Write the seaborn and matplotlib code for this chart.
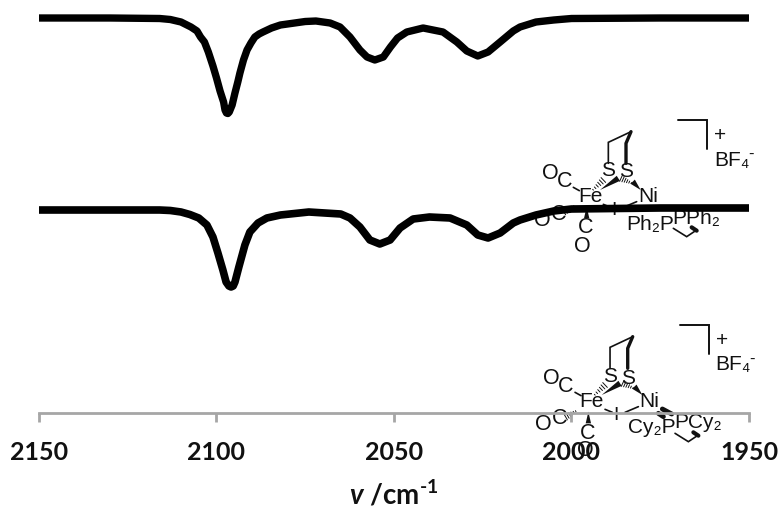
import matplotlib
matplotlib.use('Agg')
import matplotlib.pyplot as plt
import seaborn as sns

top_wn = [2150, 2130, 2116, 2113, 2110, 2107.2, 2105.5, 2104.5, 2103.4, 2102.3, 2101, 2100, 2099, 2098,
          2097.6, 2097.2, 2096.8, 2096.4, 2095.6, 2094.8, 2094, 2093.4, 2092.4, 2091.4, 2090.3, 2089.2, 2088,
          2086.9, 2084.5, 2082, 2078, 2075, 2072, 2068, 2065.2, 2062.4, 2059.6, 2057.6, 2055.4, 2053, 2051,
          2049, 2046.4, 2041.8, 2036.2, 2032.3, 2029.5, 2026.4, 2023.5, 2020.1, 2016.4, 2014.5, 2010, 2005,
          2000, 1975, 1950]
top_sig = [18, 18, 18.5, 19.5, 22, 27, 31, 37, 42, 52, 66, 78, 91, 102,
           110, 113, 113.5, 112, 105, 93, 82, 73, 60, 50, 43, 37, 34,
           32, 28, 25, 23, 21.5, 21, 23, 27, 37, 50, 57, 60, 57, 47,
           38, 32, 28, 32, 42, 51, 56, 52, 42, 31, 27, 22, 20,
           18.5, 18, 18]

mid_wn = [2150, 2130, 2116, 2113, 2110, 2107.5, 2105, 2102.7, 2101, 2099.6, 2098.2, 2097.3, 2096.5, 2095.9, 2095.3,
          2094.8, 2093.7, 2092, 2090.6, 2088.3, 2085.8, 2082, 2074, 2065, 2062.4, 2059.6, 2056.8, 2054, 2051.1,
          2048.3, 2044.6, 2040, 2034.2, 2029.5, 2026.4, 2023.5, 2020.1, 2016.4, 2014.5, 2010, 2005, 2000, 1975, 1950]
mid_sig = [210, 210, 210, 210.5, 212, 214.5, 218, 225, 237, 253, 270, 282, 286, 287, 286,
           282, 267, 245, 232, 223, 218, 215, 212, 214, 218, 227, 240, 244, 240,
           228, 219, 217, 218, 225, 235, 238, 233, 223, 220, 215, 211, 209, 208, 208]

ticks = [2150, 2100, 2050, 2000, 1950]

sns.set_theme(style='white')
plt.rcParams['font.family'] = ['Lato', 'DejaVu Sans']
plt.rcParams['mathtext.fontset'] = 'custom'
plt.rcParams['mathtext.rm'] = 'Lato:bold'
plt.rcParams['mathtext.it'] = 'Lato:italic:bold'

fig = plt.figure(figsize=(7.78, 5.12), dpi=100)

# Overlay in picture pixels for the two structure drawings
sk = fig.add_axes([0, 0, 1, 1], zorder=1)
sk.set_xlim(0, 778)
sk.set_ylim(512, 0)
sk.axis('off')

ax = fig.add_axes([39 / 778, 99 / 512, 710 / 778, 413 / 512], zorder=2)
ax.patch.set_alpha(0)
sns.lineplot(x=top_wn, y=top_sig, color='black', lw=5.3, ax=ax, sort=False,
             solid_capstyle='butt', solid_joinstyle='round')
sns.lineplot(x=mid_wn, y=mid_sig, color='black', lw=5.5, ax=ax, sort=False,
             solid_capstyle='butt', solid_joinstyle='round')
ax.set_xlim(2150, 1950)
ax.set_ylim(413, 0)
ax.set_yticks([])
ax.set_xticks(ticks)
ax.set_xticklabels([str(t) for t in ticks], fontsize=18, fontweight='bold', color='#111111')
ax.tick_params(axis='x', direction='out', length=6.5, width=2, color='#a6a6a6', pad=14, bottom=True)
ax.set_xlabel(r'$\mathit{v}$ /cm$^{\text{-}1}$', fontsize=20, fontweight='bold', color='#111111', labelpad=11)
sns.despine(ax=ax, left=True)
ax.spines['bottom'].set_color('#a6a6a6')
ax.spines['bottom'].set_linewidth(2)


def draw_structure(ox, oy, labels, low_wedge):
    # geometry is given in 3x crop units around the origin ox, oy
    def px(p):
        return ox + p[0] / 3, oy + p[1] / 3

    def bond(*pts, lw=1.2):
        xs, ys = zip(*[px(p) for p in pts])
        sk.plot(xs, ys, color='#111111', lw=lw, solid_joinstyle='miter')

    def wedge(a, b, w=9):
        dx, dy = b[0] - a[0], b[1] - a[1]
        n = (dx ** 2 + dy ** 2) ** 0.5
        c1 = (b[0] - dy / n * w, b[1] + dx / n * w)
        c2 = (b[0] + dy / n * w, b[1] - dx / n * w)
        xs, ys = zip(*[px(p) for p in (a, c1, c2)])
        sk.fill(xs, ys, color='#111111', lw=0)

    def hashed(a, b, w=10, n=6):
        dx, dy = b[0] - a[0], b[1] - a[1]
        d = (dx ** 2 + dy ** 2) ** 0.5
        for i in range(1, n + 1):
            t = i / n
            hw = w * t
            cx, cy = a[0] + dx * t, a[1] + dy * t
            bond((cx - dy / d * hw, cy + dx / d * hw), (cx + dy / d * hw, cy - dx / d * hw), lw=0.7)

    bond((475, 29), (562, 29), (562, 118), lw=1.4)
    bond((265, 160), (265, 97), (333, 65), lw=1.2)
    bond((333, 65), (318, 100), (318, 160), lw=2.4)
    bond((160, 232), (178, 242))
    hashed((213, 245), (250, 210))
    wedge((240, 240), (295, 205))
    hashed((340, 222), (303, 205))
    wedge((362, 240), (338, 215))
    bond((250, 283), (272, 292))
    bond((310, 292), (350, 275))
    hashed((168, 285), (132, 306))
    wedge((200, 290), (200, 325), w=8)
    bond((460, 355), (500, 380), (530, 360))
    bond((515, 352), (530, 362), lw=3)
    low_wedge(bond, wedge)

    for x, y, s, size in labels:
        xp, yp = px((x, y))
        sk.text(xp, yp, s, fontsize=size, family='Liberation Sans', color='#111111', ha='center', va='center')


def wedges_ph(bond, wedge):
    wedge((425, 285), (445, 296), w=6)


def wedges_cy(bond, wedge):
    bond((410, 295), (425, 305), lw=3.5)
    bond((422, 282), (450, 297), lw=3.5)


ph_labels = [(90, 190, 'O', 15.5), (133, 215, 'C', 15.5), (210, 260, 'Fe', 15), (385, 260, 'Ni', 15),
             (263, 182, 'S', 15), (318, 185, 'S', 15), (283, 302, 'I', 14), (68, 330, 'O', 15.5), (115, 315, 'C', 15.5),
             (197, 352, 'C', 15.5), (188, 408, 'O', 15.5), (390, 342, 'Ph\u2082P', 15), (530, 325, 'PPh\u2082', 15),
             (600, 76, '+', 15), (635, 150, 'BF\u2084', 15), (692, 133, '-', 12)]
cy_labels = [(90, 190, 'O', 15.5), (133, 215, 'C', 15.5), (210, 260, 'Fe', 15), (383, 260, 'Ni', 15),
             (265, 185, 'S', 15), (318, 190, 'S', 15), (283, 300, 'I', 14), (65, 330, 'O', 15.5), (113, 310, 'C', 15.5),
             (197, 355, 'C', 15.5), (190, 405, 'O', 15.5), (390, 337, 'Cy\u2082P', 15), (530, 322, 'PCy\u2082', 15),
             (600, 76, '+', 15), (635, 150, 'BF\u2084', 15), (692, 133, '-', 12)]

draw_structure(520, 110, ph_labels, wedges_ph)
draw_structure(521.7, 315, cy_labels, wedges_cy)

fig.savefig('out.png', dpi=100)
